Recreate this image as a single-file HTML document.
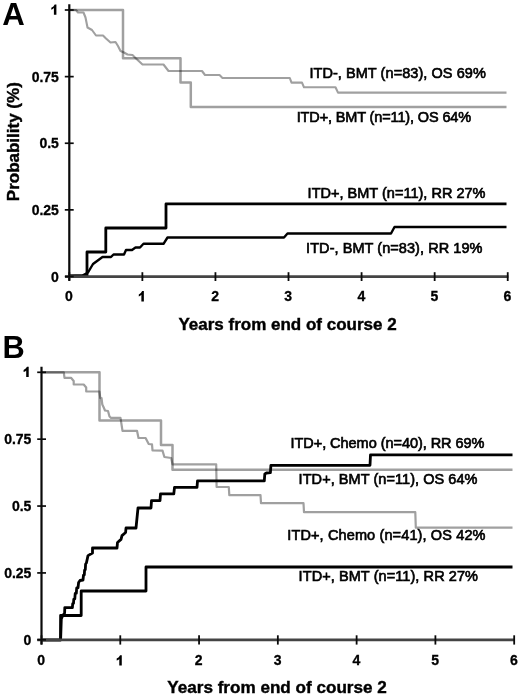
<!DOCTYPE html>
<html><head><meta charset="utf-8"><style>
html,body{margin:0;padding:0;background:#fff;}
svg{display:block;font-family:"Liberation Sans",sans-serif;fill:#000;}
</style></head><body>
<svg width="520" height="698" viewBox="0 0 520 698">
<rect width="520" height="698" fill="#fff"/>
<polyline points="69.5,10 123,10 123,58.3 180.5,58.3 180.5,82.5 190.8,82.5 190.8,106.9 506.5,106.9" fill="none" stroke="#a0a0a0" stroke-width="2.5" stroke-linejoin="round" stroke-linecap="butt" style="mix-blend-mode:multiply"/>
<polyline points="69.5,10 76,10 78,12.5 83.5,12.5 85.5,17.5 87.5,27.5 92,30 96,35.5 103,35.5 106,38.5 110.5,42.5 115.5,42 118,46 120.5,51 124,52.5 127.5,54.5 132.5,55 136,58.5 142.5,64.5 163.5,64.5 168.5,71 202,71 205,75 219.5,75 222.5,78 289.8,78 291.5,82.6 302,82.6 304,87.3 335.5,87.3 338,92.6 506.5,92.6" fill="none" stroke="#a0a0a0" stroke-width="2.1" stroke-linejoin="round" stroke-linecap="butt" style="mix-blend-mode:multiply"/>
<polyline points="69.5,276 87,276 87,252 105.8,252 105.8,228 166,228 166,203.9 506.5,203.9" fill="none" stroke="#000" stroke-width="2.8" stroke-linejoin="round" stroke-linecap="butt" style="mix-blend-mode:multiply"/>
<polyline points="69.5,276 82.5,275.5 88,272.5 93,264 102.5,257 111,257 113.5,254.5 124,254.5 126,250 132,250 135.5,247.5 140,247.5 143.5,243.8 163.5,243.8 167.5,237.5 284,237.5 287.5,233.5 391,233.5 394.5,227 506.5,227" fill="none" stroke="#000" stroke-width="2.4" stroke-linejoin="round" stroke-linecap="butt" style="mix-blend-mode:multiply"/>
<polyline points="41.5,372.3 99.5,372.3 99.5,420.6 161,420.6 161,445 172.5,445 172.5,469.7 512.5,469.7" fill="none" stroke="#a0a0a0" stroke-width="2.5" stroke-linejoin="round" stroke-linecap="butt" style="mix-blend-mode:multiply"/>
<polyline points="41.5,372.3 63.8,372.3 64.5,377.8 71,377.8 73.7,381 73.7,384.5 83.7,384.5 86.2,387.5 86.2,391.5 99.4,391.5 100.3,398 101.5,398 102.3,404.5 103.5,407 105,410.5 108,411 109.5,416.5 111,417.8 120.5,417.8 122.5,430.8 137,430.8 138.5,438 145.6,438 148.7,444 152,444.4 152.5,450.3 162.5,450.6 164.4,457 171.2,458 172.5,464.3 216.2,464.3 216.6,487 228.8,487 229.3,495.1 260.5,495.1 261,503.2 303.5,503.2 304,512.2 415.3,512.2 415.8,527.7 512.5,527.7" fill="none" stroke="#a0a0a0" stroke-width="2.2" stroke-linejoin="round" stroke-linecap="butt" style="mix-blend-mode:multiply"/>
<polyline points="41.5,640 60.6,640 60.6,615.5 81.2,615.5 81.2,591 146,591 146,567 512.5,567" fill="none" stroke="#000" stroke-width="2.8" stroke-linejoin="round" stroke-linecap="butt" style="mix-blend-mode:multiply"/>
<polyline points="60.6,640 61.3,619 62.5,616 64.6,613 64.8,607.6 72.4,607.6 72.7,603.5 73.5,603.3 73.8,599 74.8,598.8 75.2,593.5 76.3,593.3 76.7,588 78,587.8 78.6,582.5 80,580.5 83,580 83.5,575 84.3,574.8 84.6,570 85.3,569.8 85.6,564 86.4,563 88,555.6 92.5,553 92.5,548 117,548 117.5,542.5 121,539.4 122,535.6 125.6,532.5 126,528 136,528 138,508 151,508 151.5,500.6 160,500.6 160.5,493.8 173.8,493.8 174.5,487.4 197,487.4 197.5,480.9 264.3,480.9 264.8,474 266.5,473 270.4,472.6 270.9,465.3 370,465.3 370.5,454.8 512.5,454.8" fill="none" stroke="#000" stroke-width="2.8" stroke-linejoin="round" stroke-linecap="butt" style="mix-blend-mode:multiply"/>
<line x1="69.3" y1="4.3" x2="69.3" y2="280.8" stroke="#0a0a0a" stroke-width="2.2"/>
<line x1="65" y1="276.7" x2="508.4" y2="276.7" stroke="#444" stroke-width="2.8"/>
<line x1="64.8" y1="10.0" x2="73.7" y2="10.0" stroke="#0a0a0a" stroke-width="1.7"/>
<path d="M56.4,14.7 L56.4,4.399999999999999 L54.699999999999996,4.399999999999999 Q53.8,6.5 51.3,7.699999999999999 L51.3,9.7 Q53.0,9.1 53.9,8.1 L53.9,14.7 Z" fill="#000"/>
<line x1="64.8" y1="76.625" x2="73.7" y2="76.625" stroke="#0a0a0a" stroke-width="1.7"/>
<text x="58.9" y="81.825" font-size="14" font-weight="bold" text-anchor="end" stroke="#000" stroke-width="0.3">0.75</text>
<line x1="64.8" y1="143.25" x2="73.7" y2="143.25" stroke="#0a0a0a" stroke-width="1.7"/>
<text x="58.9" y="148.45" font-size="14" font-weight="bold" text-anchor="end" stroke="#000" stroke-width="0.3">0.5</text>
<line x1="64.8" y1="209.875" x2="73.7" y2="209.875" stroke="#0a0a0a" stroke-width="1.7"/>
<text x="58.9" y="215.075" font-size="14" font-weight="bold" text-anchor="end" stroke="#000" stroke-width="0.3">0.25</text>
<line x1="64.8" y1="276.5" x2="73.7" y2="276.5" stroke="#0a0a0a" stroke-width="1.7"/>
<text x="58.9" y="281.7" font-size="14" font-weight="bold" text-anchor="end" stroke="#000" stroke-width="0.3">0</text>
<line x1="69.3" y1="272.2" x2="69.3" y2="281" stroke="#0a0a0a" stroke-width="1.8"/>
<text x="69.0" y="301.2" font-size="14" font-weight="bold" text-anchor="middle" stroke="#000" stroke-width="0.3">0</text>
<line x1="142.37" y1="272.2" x2="142.37" y2="281" stroke="#0a0a0a" stroke-width="1.8"/>
<path d="M143.87,301.4 L143.87,291.09999999999997 L142.17000000000002,291.09999999999997 Q141.27,293.2 138.77,294.4 L138.77,296.4 Q140.47,295.79999999999995 141.37,294.79999999999995 L141.37,301.4 Z" fill="#000"/>
<line x1="215.44" y1="272.2" x2="215.44" y2="281" stroke="#0a0a0a" stroke-width="1.8"/>
<text x="215.14" y="301.2" font-size="14" font-weight="bold" text-anchor="middle" stroke="#000" stroke-width="0.3">2</text>
<line x1="288.51" y1="272.2" x2="288.51" y2="281" stroke="#0a0a0a" stroke-width="1.8"/>
<text x="288.21" y="301.2" font-size="14" font-weight="bold" text-anchor="middle" stroke="#000" stroke-width="0.3">3</text>
<line x1="361.58" y1="272.2" x2="361.58" y2="281" stroke="#0a0a0a" stroke-width="1.8"/>
<text x="361.28" y="301.2" font-size="14" font-weight="bold" text-anchor="middle" stroke="#000" stroke-width="0.3">4</text>
<line x1="434.65" y1="272.2" x2="434.65" y2="281" stroke="#0a0a0a" stroke-width="1.8"/>
<text x="434.34999999999997" y="301.2" font-size="14" font-weight="bold" text-anchor="middle" stroke="#000" stroke-width="0.3">5</text>
<line x1="507.71999999999997" y1="272.2" x2="507.71999999999997" y2="281" stroke="#0a0a0a" stroke-width="1.8"/>
<text x="507.41999999999996" y="301.2" font-size="14" font-weight="bold" text-anchor="middle" stroke="#000" stroke-width="0.3">6</text>
<line x1="41.5" y1="366.7" x2="41.5" y2="644.6" stroke="#0a0a0a" stroke-width="2.2"/>
<line x1="37.3" y1="639.9" x2="515" y2="639.9" stroke="#444" stroke-width="2.8"/>
<line x1="37.2" y1="372.3" x2="46" y2="372.3" stroke="#0a0a0a" stroke-width="1.7"/>
<path d="M28.7,377.0 L28.7,366.7 L27.0,366.7 Q26.099999999999998,368.8 23.6,370.0 L23.6,372.0 Q25.3,371.4 26.2,370.4 L26.2,377.0 Z" fill="#000"/>
<line x1="37.2" y1="439.175" x2="46" y2="439.175" stroke="#0a0a0a" stroke-width="1.7"/>
<text x="31.4" y="444.375" font-size="14" font-weight="bold" text-anchor="end" stroke="#000" stroke-width="0.3">0.75</text>
<line x1="37.2" y1="506.04999999999995" x2="46" y2="506.04999999999995" stroke="#0a0a0a" stroke-width="1.7"/>
<text x="31.4" y="511.24999999999994" font-size="14" font-weight="bold" text-anchor="end" stroke="#000" stroke-width="0.3">0.5</text>
<line x1="37.2" y1="572.925" x2="46" y2="572.925" stroke="#0a0a0a" stroke-width="1.7"/>
<text x="31.4" y="578.125" font-size="14" font-weight="bold" text-anchor="end" stroke="#000" stroke-width="0.3">0.25</text>
<line x1="37.2" y1="639.8" x2="46" y2="639.8" stroke="#0a0a0a" stroke-width="1.7"/>
<text x="31.4" y="645.0" font-size="14" font-weight="bold" text-anchor="end" stroke="#000" stroke-width="0.3">0</text>
<line x1="41.5" y1="635.3" x2="41.5" y2="644.6" stroke="#0a0a0a" stroke-width="1.8"/>
<text x="41.2" y="665.4" font-size="14" font-weight="bold" text-anchor="middle" stroke="#000" stroke-width="0.3">0</text>
<line x1="120.28" y1="635.3" x2="120.28" y2="644.6" stroke="#0a0a0a" stroke-width="1.8"/>
<path d="M121.78,665.6 L121.78,655.3000000000001 L120.08,655.3000000000001 Q119.18,657.4 116.68,658.6 L116.68,660.6 Q118.38,660.0 119.28,659.0 L119.28,665.6 Z" fill="#000"/>
<line x1="199.06" y1="635.3" x2="199.06" y2="644.6" stroke="#0a0a0a" stroke-width="1.8"/>
<text x="198.76" y="665.4" font-size="14" font-weight="bold" text-anchor="middle" stroke="#000" stroke-width="0.3">2</text>
<line x1="277.84000000000003" y1="635.3" x2="277.84000000000003" y2="644.6" stroke="#0a0a0a" stroke-width="1.8"/>
<text x="277.54" y="665.4" font-size="14" font-weight="bold" text-anchor="middle" stroke="#000" stroke-width="0.3">3</text>
<line x1="356.62" y1="635.3" x2="356.62" y2="644.6" stroke="#0a0a0a" stroke-width="1.8"/>
<text x="356.32" y="665.4" font-size="14" font-weight="bold" text-anchor="middle" stroke="#000" stroke-width="0.3">4</text>
<line x1="435.4" y1="635.3" x2="435.4" y2="644.6" stroke="#0a0a0a" stroke-width="1.8"/>
<text x="435.09999999999997" y="665.4" font-size="14" font-weight="bold" text-anchor="middle" stroke="#000" stroke-width="0.3">5</text>
<line x1="514.1800000000001" y1="635.3" x2="514.1800000000001" y2="644.6" stroke="#0a0a0a" stroke-width="1.8"/>
<text x="513.8800000000001" y="665.4" font-size="14" font-weight="bold" text-anchor="middle" stroke="#000" stroke-width="0.3">6</text>
<text x="178.4" y="329.5" font-size="17.0" font-weight="bold" text-anchor="start" stroke="#000" stroke-width="0.4">Years from end of course 2</text>
<text x="167.3" y="693.2" font-size="17.1" font-weight="bold" text-anchor="start" stroke="#000" stroke-width="0.4">Years from end of course 2</text>
<text transform="translate(19,201.2) rotate(-90)" font-size="17" font-weight="bold" stroke="#000" stroke-width="0.4">Probability (%)</text>
<text x="2.3" y="25" font-size="31.2" font-weight="bold" text-anchor="start" >A</text>
<text x="2.4" y="357.5" font-size="30.8" font-weight="bold" text-anchor="start" >B</text>
<text x="309.4" y="78.2" font-size="14.5" font-weight="normal" text-anchor="start" textLength="176.4" lengthAdjust="spacing" stroke="#000" stroke-width="0.65">ITD-, BMT (n=83), OS 69%</text>
<text x="296.7" y="122.3" font-size="14.5" font-weight="normal" text-anchor="start" textLength="174.5" lengthAdjust="spacing" stroke="#000" stroke-width="0.65">ITD+, BMT (n=11), OS 64%</text>
<text x="307.6" y="198.2" font-size="14.5" font-weight="normal" text-anchor="start" textLength="177.9" lengthAdjust="spacing" stroke="#000" stroke-width="0.65">ITD+, BMT (n=11), RR 27%</text>
<text x="306.1" y="253.0" font-size="14.5" font-weight="normal" text-anchor="start" textLength="176.4" lengthAdjust="spacing" stroke="#000" stroke-width="0.65">ITD-, BMT (n=83), RR 19%</text>
<text x="290.5" y="447.7" font-size="14.5" font-weight="normal" text-anchor="start" textLength="194" lengthAdjust="spacing" stroke="#000" stroke-width="0.65">ITD+, Chemo (n=40), RR 69%</text>
<text x="298.6" y="484.3" font-size="14.5" font-weight="normal" text-anchor="start" textLength="178.9" lengthAdjust="spacing" stroke="#000" stroke-width="0.65">ITD+, BMT (n=11), OS 64%</text>
<text x="287.3" y="540.4" font-size="14.5" font-weight="normal" text-anchor="start" textLength="198.2" lengthAdjust="spacing" stroke="#000" stroke-width="0.65">ITD+, Chemo (n=41), OS 42%</text>
<text x="298.6" y="580.5" font-size="14.5" font-weight="normal" text-anchor="start" textLength="179.4" lengthAdjust="spacing" stroke="#000" stroke-width="0.65">ITD+, BMT (n=11), RR 27%</text>
</svg></body></html>
